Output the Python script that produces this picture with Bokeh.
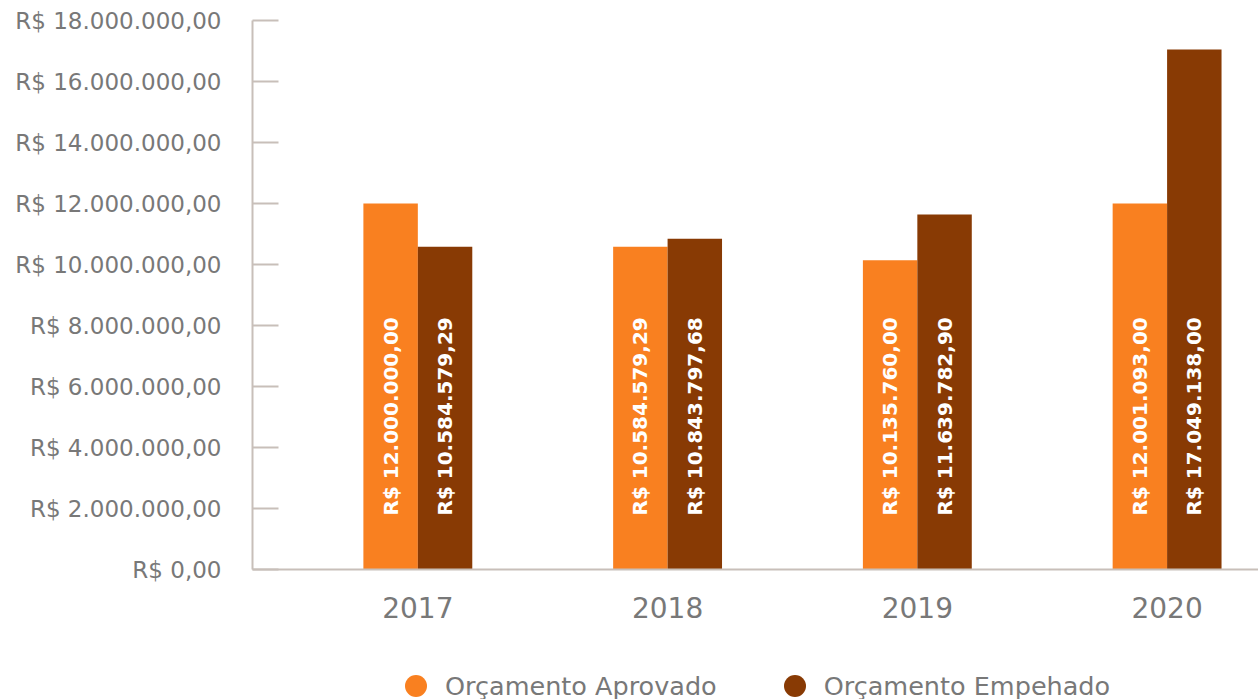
from math import pi
from bokeh.plotting import figure
from bokeh.layouts import column
from bokeh.models import ColumnDataSource, Legend, LegendItem, FixedTicker, Range1d
from bokeh.transform import dodge
from bokeh.core.properties import value
from bokeh.embed import file_html
from bokeh.resources import INLINE

# ---- data ----
years = ["2017", "2018", "2019", "2020"]
aprovado = [12000000.00, 10584579.29, 10135760.00, 12001093.00]
empenhado = [10584579.29, 10843797.68, 11639782.90, 17049138.00]
aprovado_labels = ["R$ 12.000.000,00", "R$ 10.584.579,29", "R$ 10.135.760,00", "R$ 12.001.093,00"]
empenhado_labels = ["R$ 10.584.579,29", "R$ 10.843.797,68", "R$ 11.639.782,90", "R$ 17.049.138,00"]
y_ticks = [0, 2000000, 4000000, 6000000, 8000000, 10000000, 12000000, 14000000, 16000000, 18000000]
y_tick_labels = ["R$ 0,00", "R$ 2.000.000,00", "R$ 4.000.000,00", "R$ 6.000.000,00",
                 "R$ 8.000.000,00", "R$ 10.000.000,00", "R$ 12.000.000,00",
                 "R$ 14.000.000,00", "R$ 16.000.000,00", "R$ 18.000.000,00"]
series_names = ["Orçamento Aprovado", "Orçamento Empehado"]

ORANGE = "#F98020"
BROWN = "#883A04"
GRAY = "#787878"
AXIS = "#C8BFB9"
FONT = "DejaVu Sans"

idx = list(range(len(years)))
src = ColumnDataSource(dict(x=idx, year=years, a=aprovado, e=empenhado,
                            al=aprovado_labels, el=empenhado_labels))

p = figure(width=1258, height=639, output_backend="svg", toolbar_location=None,
           x_range=Range1d(-0.662, 3.366), y_range=Range1d(0, 18000000),
           min_border_left=252, min_border_right=0, min_border_top=20, min_border_bottom=70)
p.outline_line_color = None
p.xgrid.visible = False
p.ygrid.visible = False
p.background_fill_color = "white"

bw = 0.218
ra = p.vbar(x=dodge("x", -bw / 2), top="a", width=bw, source=src, fill_color=ORANGE, line_color=None)
re = p.vbar(x=dodge("x", bw / 2), top="e", width=bw, source=src, fill_color=BROWN, line_color=None)

label_y = 1770000
for col, off in (("al", -bw / 2), ("el", bw / 2)):
    p.text(x=dodge("x", off), y=label_y, text=col, source=src, angle=pi / 2,
           text_align="left", text_baseline="middle", text_color="white",
           text_font=value(FONT), text_font_style="bold", text_font_size="20px")

# y axis
ya = p.yaxis[0]
ya.ticker = FixedTicker(ticks=y_ticks)
ya.major_label_overrides = {t: l for t, l in zip(y_ticks, y_tick_labels)}
ya.major_tick_in = 26
ya.major_tick_out = 0
ya.minor_tick_line_color = None
ya.major_tick_line_color = AXIS
ya.major_tick_line_width = 2
ya.axis_line_color = AXIS
ya.axis_line_width = 2
ya.major_label_text_font = FONT
ya.major_label_text_font_size = "23px"
ya.major_label_text_color = GRAY
ya.major_label_standoff = 31

# x axis
xa = p.xaxis[0]
xa.ticker = FixedTicker(ticks=idx)
xa.major_label_overrides = {i: y for i, y in zip(idx, years)}
xa.major_tick_line_color = None
xa.minor_tick_line_color = None
xa.axis_line_color = AXIS
xa.axis_line_width = 2
xa.major_label_text_font = FONT
xa.major_label_text_font_size = "28px"
xa.major_label_text_color = GRAY
xa.major_label_standoff = 21

# legend strip (separate figure below the chart; its frame aligns with the chart's)
lg = figure(width=1258, height=60, output_backend="svg", toolbar_location=None,
            x_axis_type=None, y_axis_type=None, x_range=Range1d(0, 1), y_range=Range1d(0, 1),
            min_border_left=0, min_border_right=0, min_border_top=0, min_border_bottom=0)
lg.outline_line_color = None
lg.xgrid.visible = False
lg.ygrid.visible = False
nan = float("nan")
da = lg.scatter(x=[nan], y=[nan], marker="circle", fill_color=ORANGE, line_color=None)
de = lg.scatter(x=[nan], y=[nan], marker="circle", fill_color=BROWN, line_color=None)
legend = Legend(items=[LegendItem(label=series_names[0], renderers=[da]),
                       LegendItem(label=series_names[1], renderers=[de])],
                orientation="horizontal", location=(136, -14),
                glyph_width=55, glyph_height=55, label_standoff=2, spacing=50,
                padding=0, margin=0, border_line_color=None, background_fill_alpha=0,
                label_text_font=FONT, label_text_font_size="25.5px", label_text_color=GRAY)
lg.add_layout(legend)

layout = column(p, lg, spacing=0)
open("out.html", "w").write(file_html(layout, INLINE))
